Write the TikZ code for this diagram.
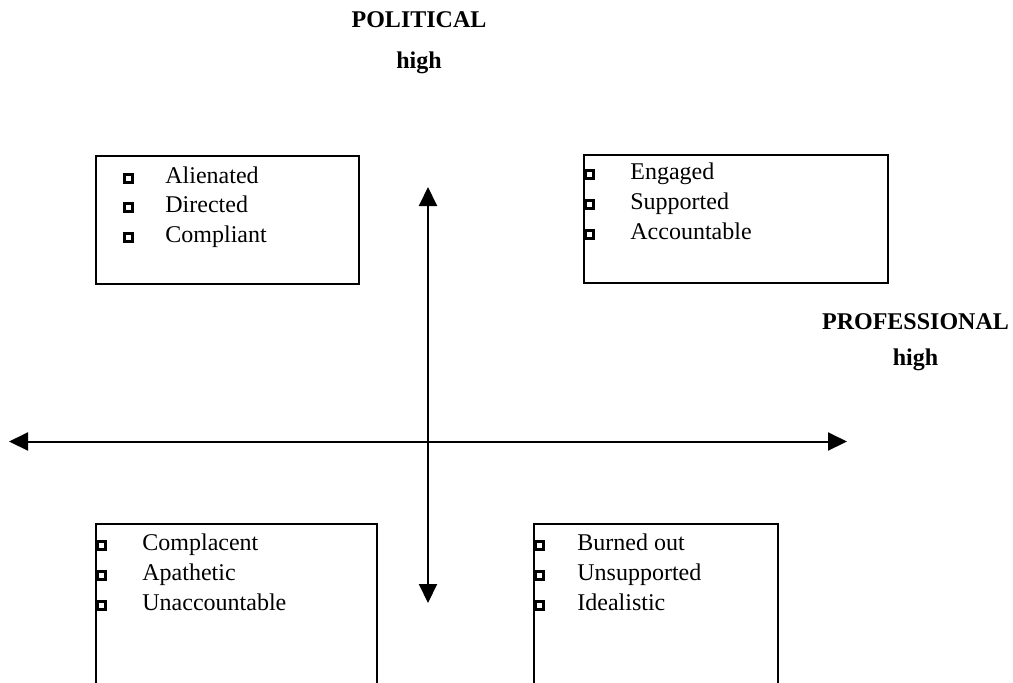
\documentclass[tikz,border=0pt]{standalone}
\usepackage{fontspec}
\setmainfont{Liberation Serif}
\usetikzlibrary{arrows.meta,positioning}

\begin{document}
\begin{tikzpicture}[x=0.5pt, y=-0.5pt,
  every node/.style={font=\fontsize{12}{14}\selectfont},
  quad/.style={draw, line width=0.9pt, anchor=north west, inner sep=0pt},
  tick/.style={draw, fill=white, line width=1.5pt, minimum size=4pt, inner sep=0pt},
  item/.style={anchor=base west, inner sep=0pt},
  head/.style={font=\fontsize{12}{14}\selectfont\bfseries, anchor=base, inner sep=0pt},
  axis/.style={{Triangle[length=9.5pt,width=9pt]}-{Triangle[length=9.5pt,width=9pt]}, line width=1pt},
]
\useasboundingbox (0,0) rectangle (1013,682);
\clip (0,0) rectangle (1013,682);

% Quadrant boxes
\node[quad, minimum width=131.5pt, minimum height=64pt] (tl) at (95,155) {};
\node[quad, minimum width=152pt, minimum height=64pt] (tr) at (583,154) {};
\node[quad, minimum width=140.5pt, minimum height=100pt] (bl) at (95,523) {};
\node[quad, minimum width=122pt, minimum height=100pt] (br) at (533,523) {};

% Items
\foreach \txt [count=\i] in {Alienated,Directed,Compliant} {
  \node[tick] (tl-b\i) at (128,{178+29.5*(\i-1)}) {};
  \node[item] (tl-\i) at (165,{183+29.5*(\i-1)}) {\txt};
}
\foreach \txt [count=\i] in {Engaged,Supported,Accountable} {
  \node[tick] (tr-b\i) at (589,{174+30*(\i-1)}) {};
  \node[item] (tr-\i) at (630,{179+30*(\i-1)}) {\txt};
}
\foreach \txt [count=\i] in {Complacent,Apathetic,Unaccountable} {
  \node[tick] (bl-b\i) at (101,{545+30*(\i-1)}) {};
  \node[item] (bl-\i) at (142,{550+30*(\i-1)}) {\txt};
}
\foreach \txt [count=\i] in {Burned out,Unsupported,Idealistic} {
  \node[tick] (br-b\i) at (539,{545+30*(\i-1)}) {};
  \node[item] (br-\i) at (577,{550+30*(\i-1)}) {\txt};
}

% Axes
\coordinate (prof-lo) at (9,441.5);
\coordinate (prof-hi) at (847,441.5);
\coordinate (pol-hi) at (428,187);
\coordinate (pol-lo) at (428,603);
\draw[axis] (prof-lo) -- (prof-hi);
\draw[axis] (pol-hi) -- (pol-lo);

% Axis labels
\node[head] (pol) at (419,27) {POLITICAL};
\node[head] (pol-high) at (419,68) {high};
\node[head] (prof) at (915.5,329) {PROFESSIONAL};
\node[head] (prof-high) at (915.5,365) {high};

\end{tikzpicture}
\end{document}
